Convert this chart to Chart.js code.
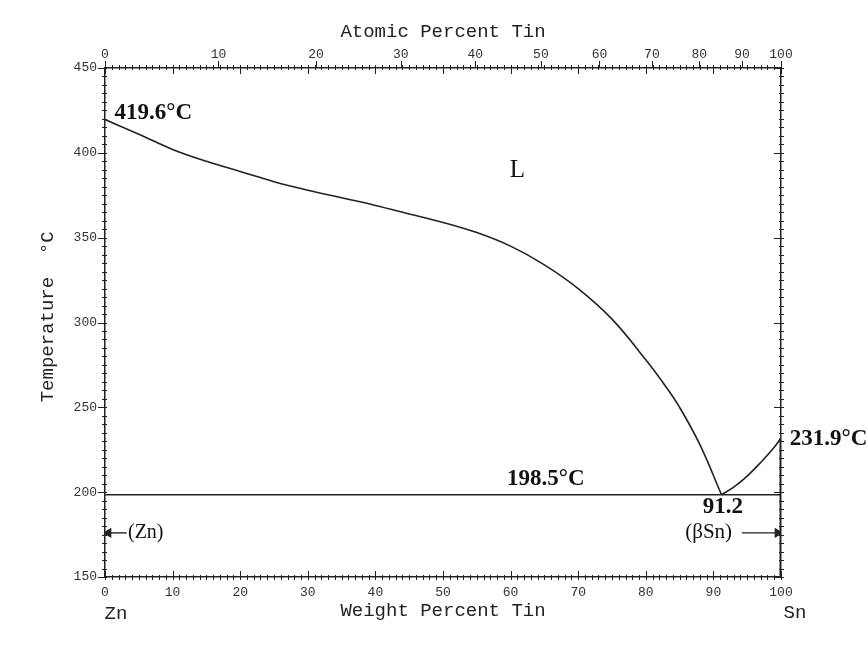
<!DOCTYPE html>
<html><head><meta charset="utf-8">
<script src="https://cdn.jsdelivr.net/npm/chart.js@4.4.1/dist/chart.umd.min.js"></script>
<style>html,body{margin:0;padding:0;background:#fff}#wrap{width:868px;height:656px}</style>
</head><body><div id="wrap"><canvas id="c" width="868" height="656"></canvas></div>
<script>
// ---- data ----
const liquidusZnWt = [0, 5, 10, 15, 20, 25, 30, 35, 40, 45, 50, 55, 60, 65, 70, 75, 80, 83, 85, 88, 91.2];
const liquidusZnT  = [419.6, 411, 402, 395, 389, 383, 378, 373.5, 369, 364, 359, 353, 345, 334, 320, 302, 278, 262, 250, 228, 198.5];
const liquidusSnWt = [91.2, 93, 95, 97, 99, 100];
const liquidusSnT  = [198.5, 203, 209.5, 217.5, 226.5, 231.9];
const eutecticWt = [0, 100];
const eutecticT  = [198.5, 198.5];
const snSolvusWt = [100, 100];
const snSolvusT  = [150, 231.9];
const znArrowWt = [3.2, 0.5];
const znArrowT  = [176, 176];
const snArrowWt = [94.2, 99.5];
const snArrowT  = [176, 176];
const weightTicks = [0, 10, 20, 30, 40, 50, 60, 70, 80, 90, 100];
const atomicTicks = [0, 10, 20, 30, 40, 50, 60, 70, 80, 90, 100];
const tempTicks = [150, 200, 250, 300, 350, 400, 450];
const labelTexts = ['419.6°C', 'L', '198.5°C', '91.2', '(βSn)', '231.9°C', '(Zn)'];
const labelWt    = [1.4, 61.0, 65.2, 91.4, 89.3, 101.3, 3.4];
const labelT     = [423.5, 389.5, 207.5, 191.0, 176.3, 231.3, 176.0];

const M_SN = 118.71, M_ZN = 65.38;
const atToWt = a => 100 * a * M_SN / (a * M_SN + (100 - a) * M_ZN);
const pts = (xs, ys) => xs.map((x, i) => ({x, y: ys[i]}));

const INK = '#222';
const tickFont = {family: 'Liberation Mono', size: 13};
const titleFont = {family: 'Liberation Mono', size: 19};

const labelStyle = [
  {font: 'bold 23px "Liberation Serif"', align: 'left'},
  {font: '25px "Liberation Serif"', align: 'center'},
  {font: 'bold 23px "Liberation Serif"', align: 'center'},
  {font: 'bold 23px "Liberation Serif"', align: 'center'},
  {font: '21px "Liberation Serif"', align: 'center'},
  {font: 'bold 23px "Liberation Serif"', align: 'left'},
  {font: '20px "Liberation Serif"', align: 'left'}
];

const tickPlugin = {
  id: 'minorTicks',
  afterDraw(chart) {
    const {ctx, chartArea: a, scales} = chart;
    const x = scales.x, y = scales.y;
    ctx.save();
    ctx.strokeStyle = INK;
    ctx.lineWidth = 1;
    ctx.beginPath();
    for (let w = 0; w <= 100; w++) {
      const px = Math.round(x.getPixelForValue(w)) + 0.5;
      const major = w % 10 === 0;
      ctx.moveTo(px, a.bottom + 3); ctx.lineTo(px, a.bottom - (major ? 6 : 2));
      ctx.moveTo(px, a.top - 3); ctx.lineTo(px, a.top + (major ? 6 : 2));
    }
    atomicTicks.forEach(at => {
      const px = Math.round(x.getPixelForValue(atToWt(at))) + 0.5;
      ctx.moveTo(px, a.top); ctx.lineTo(px, a.top - 7);
    });
    for (let t = 150; t <= 450; t += 5) {
      const py = Math.round(y.getPixelForValue(t)) + 0.5;
      const major = t % 50 === 0;
      ctx.moveTo(a.left - (major ? 7 : 3), py); ctx.lineTo(a.left + 2, py);
      ctx.moveTo(a.right + 3, py); ctx.lineTo(a.right - (major ? 7 : 2), py);
    }
    ctx.stroke();
    ctx.fillStyle = INK;
    ctx.font = '19px "Liberation Mono"';
    ctx.textAlign = 'center';
    ctx.textBaseline = 'middle';
    ctx.fillText('Zn', x.getPixelForValue(0) + 11, 614);
    ctx.fillText('Sn', x.getPixelForValue(100) + 14, 613);
    ctx.restore();
  }
};

const labelPlugin = {
  id: 'phaseLabels',
  afterDatasetsDraw(chart) {
    const {ctx, scales: {x, y}} = chart;
    ctx.save();
    ctx.fillStyle = '#111';
    ctx.textBaseline = 'middle';
    labelTexts.forEach((txt, i) => {
      ctx.font = labelStyle[i].font;
      ctx.textAlign = labelStyle[i].align;
      ctx.fillText(txt, x.getPixelForValue(labelWt[i]), y.getPixelForValue(labelT[i]));
    });
    ctx.restore();
  }
};

const lineDs = (data, extra) => Object.assign({
  data, borderColor: INK, borderWidth: 1.6, pointRadius: 0, fill: false,
  xAxisID: 'x', yAxisID: 'y'
}, extra || {});

const arrowDs = (data) => lineDs(data, {
  borderWidth: 1.4,
  pointRadius: [0, 4.5], pointStyle: 'triangle',
  pointBackgroundColor: INK, pointBorderColor: INK,
  rotation: data[1].x < data[0].x ? [0, -90] : [0, 90]
});

new Chart(document.getElementById('c'), {
  type: 'line',
  data: {
    datasets: [
      lineDs(pts(liquidusZnWt, liquidusZnT), {tension: 0.4}),
      lineDs(pts(liquidusSnWt, liquidusSnT), {tension: 0.4}),
      lineDs(pts(eutecticWt, eutecticT)),
      lineDs(pts(snSolvusWt, snSolvusT), {borderWidth: 3}),
      arrowDs(pts(znArrowWt, znArrowT)),
      arrowDs(pts(snArrowWt, snArrowT))
    ]
  },
  options: {
    responsive: false, animation: false, devicePixelRatio: 1,
    layout: {padding: {left: 0, right: 87, top: 0, bottom: 0}},
    plugins: {legend: {display: false}, tooltip: {enabled: false}},
    scales: {
      x: {
        type: 'linear', position: 'bottom', min: 0, max: 100,
        afterBuildTicks: s => { s.ticks = weightTicks.map(v => ({value: v})); },
        grid: {display: false, drawTicks: false},
        border: {display: true, color: INK, width: 1.5},
        ticks: {padding: 8, font: tickFont, color: '#333', maxRotation: 0, autoSkip: false,
                callback: (v, i) => String(weightTicks[i])},
        title: {display: true, text: 'Weight Percent Tin', font: titleFont, color: INK,
                padding: {top: 0, bottom: 34}},
        afterFit: s => { s.height = 79; }
      },
      x2: {
        type: 'linear', position: 'top', min: 0, max: 100,
        afterBuildTicks: s => { s.ticks = atomicTicks.map(a => ({value: atToWt(a)})); },
        grid: {display: false, drawTicks: false},
        border: {display: true, color: INK, width: 1.5},
        ticks: {padding: 6, font: tickFont, color: '#333', maxRotation: 0, autoSkip: false,
                callback: (v, i) => String(atomicTicks[i])},
        title: {display: true, text: 'Atomic Percent Tin', font: titleFont, color: INK,
                padding: {top: 21, bottom: 0}},
        afterFit: s => { s.height = 68; }
      },
      y: {
        type: 'linear', position: 'left', min: 150, max: 450,
        afterBuildTicks: s => { s.ticks = tempTicks.map(v => ({value: v})); },
        grid: {display: false, drawTicks: false},
        border: {display: true, color: INK, width: 1.5},
        ticks: {padding: 8, font: tickFont, color: '#333', callback: (v, i) => String(tempTicks[i])},
        title: {display: true, text: ' Temperature  °C', font: titleFont, color: INK,
                padding: {top: 37, bottom: 0}},
        afterFit: s => { s.width = 105; }
      },
      y2: {
        type: 'linear', position: 'right', min: 150, max: 450,
        grid: {display: false, drawTicks: false},
        border: {display: true, color: INK, width: 1.5},
        ticks: {display: false},
        afterFit: s => { s.width = 0; }
      }
    }
  },
  plugins: [tickPlugin, labelPlugin]
});
</script>
</body></html>
